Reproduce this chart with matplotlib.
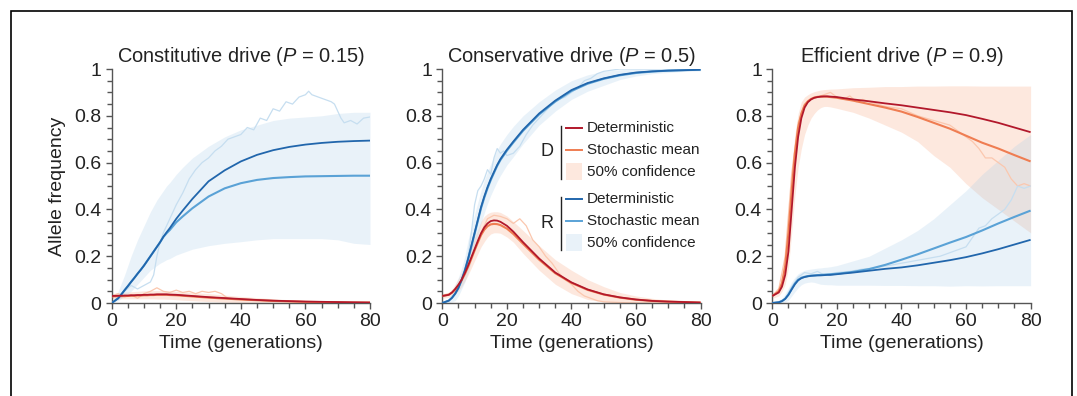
import matplotlib
matplotlib.use("Agg")
import matplotlib.pyplot as plt
from matplotlib.ticker import MultipleLocator, FixedLocator, FuncFormatter
from matplotlib.patches import Rectangle
from matplotlib.lines import Line2D

plt.rcParams['font.family'] = ['Liberation Sans', 'DejaVu Sans']
plt.rcParams['mathtext.fontset'] = 'custom'
plt.rcParams['mathtext.rm'] = 'Liberation Sans'
plt.rcParams['mathtext.it'] = 'Liberation Sans:italic'

# ---------------- data ----------------
titles = [r'Constitutive drive ($P$ = 0.15)', r'Conservative drive ($P$ = 0.5)', r'Efficient drive ($P$ = 0.9)']
ylabel = 'Allele frequency'
xlabel = 'Time (generations)'
xticks = [0, 20, 40, 60, 80]
yticks = [0, 0.2, 0.4, 0.6, 0.8, 1.0]

t = [0, 2, 3, 4, 5, 6, 7, 8, 9, 10, 11, 12, 13, 14, 15, 16, 17, 18, 20, 22, 25, 30, 35, 40, 45, 50, 55, 60, 65, 70, 75, 80]

# Panel 1: constitutive drive
p1_D_det  = [.030, .031, .031, .032, .032, .033, .033, .034, .034, .035, .035, .036, .036, .037, .037, .037, .037, .036, .035, .033, .030, .025, .021, .017, .013, .010, .008, .006, .005, .004, .003, .002]
p1_D_mean = [.028, .029, .029, .030, .030, .031, .031, .032, .032, .033, .033, .034, .034, .035, .035, .035, .035, .034, .033, .031, .028, .023, .019, .015, .012, .009, .007, .005, .004, .003, .002, .002]
p1_D_lo   = [.018, .018, .018, .018, .018, .018, .018, .018, .018, .018, .018, .018, .018, .017, .017, .017, .016, .016, .014, .012, .010, .006, .003, .001, 0, 0, 0, 0, 0, 0, 0, 0]
p1_D_hi   = [.040, .043, .044, .046, .047, .048, .049, .050, .051, .052, .052, .053, .053, .053, .053, .053, .052, .052, .050, .048, .045, .040, .034, .028, .023, .018, .014, .011, .009, .007, .005, .004]
p1_R_det  = [0, .020, .037, .055, .072, .090, .107, .125, .142, .160, .180, .200, .220, .240, .260, .283, .302, .320, .360, .395, .445, .520, .567, .605, .633, .653, .667, .677, .684, .689, .692, .694]
p1_R_mean = [0, .020, .037, .055, .072, .090, .107, .125, .142, .160, .180, .200, .220, .240, .260, .282, .298, .312, .345, .370, .405, .455, .490, .512, .526, .534, .538, .541, .542, .543, .544, .544]
p1_R_lo   = [0, .010, .020, .030, .040, .050, .065, .080, .095, .110, .125, .140, .150, .160, .170, .177, .185, .190, .205, .215, .230, .245, .255, .262, .270, .275, .275, .275, .275, .270, .255, .250]
p1_R_hi   = [0, .050, .085, .120, .160, .200, .235, .270, .300, .330, .360, .390, .415, .440, .460, .480, .500, .515, .550, .580, .620, .670, .710, .740, .760, .780, .790, .795, .800, .810, .815, .815]
p1_D_run_t = [0, 2, 4, 6, 8, 10, 12, 14, 16, 18, 20, 22, 24, 26, 28, 30, 32, 34, 36, 40, 45, 50, 60, 70, 80]
p1_D_run   = [0.030, 0.040, 0.025, 0.035, 0.020, 0.040, 0.050, 0.065, 0.050, 0.045, 0.055, 0.045, 0.050, 0.040, 0.050, 0.045, 0.050, 0.040, 0.020, 0.015, 0.012, 0.008, 0.004, 0.002, 0.001]
p1_R_run_t = [0, 2, 4, 6, 8, 10, 12, 13, 14, 15, 16, 18, 20, 22, 24, 26, 28, 30, 32, 34, 36, 38, 40, 42, 44, 46, 48, 50, 52, 54, 56, 58, 60, 61, 62, 64, 66, 68, 69, 70, 71, 72, 74, 76, 78, 80]
p1_R_run   = [0.000, 0.020, 0.050, 0.075, 0.060, 0.075, 0.090, 0.120, 0.200, 0.260, 0.300, 0.360, 0.420, 0.470, 0.530, 0.570, 0.600, 0.620, 0.650, 0.670, 0.700, 0.710, 0.720, 0.750, 0.740, 0.790, 0.780, 0.830, 0.820, 0.860, 0.850, 0.880, 0.890, 0.905, 0.890, 0.880, 0.870, 0.860, 0.850, 0.820, 0.790, 0.770, 0.780, 0.765, 0.790, 0.795]

# Panel 2: conservative drive
p2_D_det  = [.030, .035, .045, .060, .078, .100, .128, .160, .195, .230, .265, .298, .323, .340, .350, .353, .352, .347, .330, .305, .260, .190, .130, .088, .058, .037, .024, .015, .009, .006, .004, .002]
p2_D_mean = [.030, .035, .044, .058, .076, .097, .124, .155, .190, .225, .258, .290, .313, .328, .336, .338, .337, .333, .318, .295, .253, .185, .127, .086, .056, .036, .023, .014, .009, .006, .004, .002]
p2_D_lo   = [.020, .025, .032, .040, .052, .070, .094, .120, .150, .180, .210, .240, .262, .282, .295, .300, .300, .298, .282, .260, .212, .140, .080, .040, .015, .005, 0, 0, 0, 0, 0, 0]
p2_D_hi   = [.040, .045, .060, .080, .104, .130, .164, .200, .240, .280, .315, .350, .370, .382, .388, .390, .390, .387, .372, .348, .310, .245, .185, .140, .100, .070, .045, .030, .020, .012, .008, .005]
p2_R_det  = [0, .010, .022, .040, .065, .100, .140, .190, .245, .300, .355, .410, .455, .495, .530, .560, .590, .615, .655, .690, .740, .810, .865, .910, .940, .960, .975, .985, .990, .993, .995, .997]
p2_R_mean = [0, .010, .022, .040, .064, .098, .137, .186, .240, .295, .350, .405, .450, .490, .525, .556, .586, .611, .651, .686, .736, .806, .861, .906, .937, .958, .973, .983, .989, .993, .995, .997]
p2_R_lo   = [0, 0, .005, .010, .030, .060, .090, .130, .180, .230, .285, .340, .385, .425, .460, .490, .520, .545, .590, .625, .680, .760, .820, .870, .905, .930, .955, .970, .980, .985, .990, .992]
p2_R_hi   = [0, .020, .045, .080, .110, .150, .200, .270, .325, .380, .430, .480, .525, .560, .595, .625, .655, .680, .720, .755, .800, .860, .910, .950, .975, .990, .997, 1, 1, 1, 1, 1]
p2_D_run_t = [0, 4, 8, 10, 12, 14, 16, 18, 20, 22, 24, 26, 28, 30, 32, 34, 36, 38, 40, 42, 44, 46, 48, 50, 55, 60, 80]
p2_D_run   = [0.030, 0.050, 0.150, 0.220, 0.300, 0.360, 0.375, 0.370, 0.360, 0.340, 0.360, 0.330, 0.270, 0.240, 0.200, 0.170, 0.130, 0.100, 0.080, 0.050, 0.030, 0.020, 0.010, 0.005, 0.002, 0.000, 0.000]
p2_R_run_t = [0, 2, 4, 6, 8, 9, 10, 11, 12, 13, 14, 15, 16, 17, 18, 19, 20, 22, 24, 26, 28, 30, 32, 34, 36, 38, 40, 42, 44, 46, 48, 50, 55, 60, 65, 70, 75, 80]
p2_R_run   = [0.000, 0.010, 0.040, 0.100, 0.200, 0.300, 0.420, 0.480, 0.500, 0.530, 0.570, 0.550, 0.620, 0.660, 0.640, 0.650, 0.630, 0.640, 0.670, 0.720, 0.760, 0.790, 0.820, 0.850, 0.870, 0.880, 0.900, 0.920, 0.950, 0.960, 0.980, 0.990, 1.000, 1.000, 1.000, 1.000, 1.000, 1.000]

# Panel 3: efficient drive
p3_D_det  = [.030, .045, .070, .120, .220, .400, .580, .710, .790, .835, .858, .870, .877, .880, .882, .883, .883, .882, .880, .876, .870, .862, .853, .845, .835, .825, .815, .803, .787, .770, .750, .730]
p3_D_mean = [.030, .050, .085, .160, .300, .480, .640, .750, .810, .845, .862, .872, .878, .881, .882, .882, .882, .880, .877, .872, .865, .850, .835, .818, .795, .770, .745, .715, .685, .660, .632, .605]
p3_D_lo   = [.020, .030, .050, .080, .150, .300, .460, .580, .660, .720, .760, .790, .810, .825, .835, .840, .840, .838, .832, .825, .815, .790, .760, .730, .690, .630, .580, .510, .450, .400, .350, .300]
p3_D_hi   = [.040, .070, .120, .230, .400, .580, .720, .810, .860, .880, .890, .898, .903, .907, .910, .912, .913, .914, .915, .917, .920, .922, .925, .925, .927, .927, .928, .928, .927, .927, .927, .927]
p3_R_det  = [0, .003, .008, .018, .035, .058, .080, .097, .106, .111, .114, .116, .117, .118, .118, .119, .120, .120, .123, .126, .130, .138, .146, .152, .161, .172, .183, .196, .212, .230, .250, .270]
p3_R_mean = [0, .003, .008, .018, .036, .060, .083, .099, .108, .112, .115, .117, .118, .119, .120, .121, .122, .123, .125, .128, .133, .145, .163, .185, .208, .233, .258, .282, .310, .340, .368, .395]
p3_R_lo   = [0, 0, .002, .005, .012, .030, .048, .065, .078, .085, .088, .090, .088, .084, .080, .079, .078, .078, .076, .076, .076, .076, .075, .075, .074, .074, .072, .074, .073, .074, .074, .074]
p3_R_hi   = [0, .008, .018, .040, .065, .090, .110, .125, .133, .140, .143, .145, .147, .149, .150, .152, .153, .155, .160, .168, .180, .200, .235, .270, .310, .360, .420, .480, .550, .610, .670, .720]
p3_D_run_t = [0, 2, 4, 6, 8, 10, 12, 14, 16, 18, 20, 22, 24, 26, 28, 30, 35, 40, 45, 50, 55, 60, 62, 64, 66, 68, 70, 72, 74, 76, 78, 80]
p3_D_run   = [0.030, 0.060, 0.200, 0.550, 0.770, 0.850, 0.870, 0.880, 0.890, 0.900, 0.880, 0.870, 0.885, 0.860, 0.870, 0.860, 0.840, 0.830, 0.800, 0.780, 0.760, 0.710, 0.690, 0.660, 0.620, 0.620, 0.600, 0.580, 0.530, 0.500, 0.510, 0.500]
p3_R_run_t = [0, 2, 4, 6, 8, 10, 12, 14, 16, 18, 20, 24, 28, 32, 36, 40, 44, 48, 52, 56, 60, 62, 64, 66, 68, 70, 72, 74, 76, 78, 80]
p3_R_run   = [0.000, 0.005, 0.020, 0.070, 0.110, 0.130, 0.125, 0.135, 0.120, 0.125, 0.130, 0.135, 0.145, 0.150, 0.160, 0.170, 0.180, 0.190, 0.200, 0.220, 0.240, 0.280, 0.320, 0.330, 0.360, 0.380, 0.400, 0.440, 0.500, 0.490, 0.500]

panels = [
    dict(D=(p1_D_det, p1_D_mean, p1_D_lo, p1_D_hi, p1_D_run_t, p1_D_run),
         R=(p1_R_det, p1_R_mean, p1_R_lo, p1_R_hi, p1_R_run_t, p1_R_run)),
    dict(D=(p2_D_det, p2_D_mean, p2_D_lo, p2_D_hi, p2_D_run_t, p2_D_run),
         R=(p2_R_det, p2_R_mean, p2_R_lo, p2_R_hi, p2_R_run_t, p2_R_run)),
    dict(D=(p3_D_det, p3_D_mean, p3_D_lo, p3_D_hi, p3_D_run_t, p3_D_run),
         R=(p3_R_det, p3_R_mean, p3_R_lo, p3_R_hi, p3_R_run_t, p3_R_run)),
]

# ---------------- styles ----------------
colors = {
    'D': dict(det='#b2182b', mean='#ef7d52', band='#f9a47e', run='#fbc7ae'),
    'R': dict(det='#2166ac', mean='#5aa2d6', band='#a9cde9', run='#c6def0'),
}
band_alpha = {'D': 0.25, 'R': 0.25}
axis_col = '#555555'
text_col = '#222222'
fs = 14

W, H = 1077, 396
fig = plt.figure(figsize=(W / 100, H / 100), dpi=100)

# outer frame
fig.patches.append(Rectangle((11 / W, -0.1), (1072 - 11) / W, 1.1 - 11 / H,
                             transform=fig.transFigure, fill=False,
                             edgecolor='black', linewidth=1.2))

lefts = [111.7, 442.3, 772.3]
width_px = 258.3
top_px, bot_px = 69, 303

axes = []
for i, (lx, pdata) in enumerate(zip(lefts, panels)):
    ax = fig.add_axes([lx / W, (H - bot_px) / H, width_px / W, (bot_px - top_px) / H])
    axes.append(ax)
    for key in ['D', 'R']:
        det, mean, lo, hi, rt, run = pdata[key]
        c = colors[key]
        ax.fill_between(t, lo, hi, color=c['band'], alpha=band_alpha[key], linewidth=0, zorder=1)
    for key in ['D', 'R']:
        det, mean, lo, hi, rt, run = pdata[key]
        c = colors[key]
        ax.plot(rt, run, color=c['run'], lw=0.9, zorder=2)
    for key in ['R', 'D']:
        det, mean, lo, hi, rt, run = pdata[key]
        c = colors[key]
        ax.plot(t, mean, color=c['mean'], lw=1.5, zorder=3, solid_capstyle='butt')
        ax.plot(t, det, color=c['det'], lw=1.3, zorder=4, solid_capstyle='butt')

    ax.set_xlim(0, 80)
    ax.set_ylim(0, 1)
    ax.spines['top'].set_visible(False)
    ax.spines['right'].set_visible(False)
    for s in ['left', 'bottom']:
        ax.spines[s].set_color(axis_col)
        ax.spines[s].set_linewidth(1.0)
    ax.xaxis.set_major_locator(FixedLocator(xticks))
    ax.yaxis.set_major_locator(FixedLocator(yticks))
    ax.xaxis.set_minor_locator(MultipleLocator(5))
    ax.yaxis.set_minor_locator(MultipleLocator(0.05))
    ax.yaxis.set_major_formatter(FuncFormatter(lambda v, p: '%g' % v))
    ax.tick_params(which='major', direction='out', length=4.5, width=1.0, color=axis_col,
                   labelsize=fs, labelcolor=text_col, pad=3)
    ax.tick_params(which='minor', direction='out', length=3.5, width=1.0, color=axis_col)
    ax.set_title(titles[i], fontsize=14.4, color=text_col, pad=5)
    ax.set_xlabel(xlabel, fontsize=fs, color=text_col, labelpad=3)
    if i == 0:
        ax.set_ylabel(ylabel, fontsize=fs, color=text_col, labelpad=6)

# ---------------- legend (panel 2) ----------------
ax = axes[1]
lx0 = lefts[1]


def fx(px):
    return (px - lx0) / width_px


def fy(py):
    return (bot_px - py) / (bot_px - top_px)


legend_rows = {
    'D': [128, 150, 172],
    'R': [199, 221, 243],
}
labels = ['Deterministic', 'Stochastic mean', '50% confidence']
for key in ['D', 'R']:
    rows = legend_rows[key]
    c = colors[key]
    ax.add_line(Line2D([fx(566), fx(582)], [fy(rows[0])] * 2, transform=ax.transAxes, color=c['det'], lw=1.4))
    ax.add_line(Line2D([fx(566), fx(582)], [fy(rows[1])] * 2, transform=ax.transAxes, color=c['mean'], lw=1.4))
    ax.add_patch(Rectangle((fx(566), fy(rows[2] + 8)), fx(582) - fx(566), fy(rows[2] - 9) - fy(rows[2] + 8),
                           transform=ax.transAxes, facecolor=c['band'], alpha=band_alpha[key], linewidth=0))
    for r, lab in zip(rows, labels):
        ax.text(fx(587), fy(r), lab, transform=ax.transAxes, fontsize=11, color=text_col,
                va='center', ha='left')
    ax.add_line(Line2D([fx(561), fx(561)], [fy(rows[0] - 2), fy(rows[2] + 7)], transform=ax.transAxes,
                       color='#222222', lw=1.0))
    ax.text(fx(553), fy(rows[1] + 2), key, transform=ax.transAxes, fontsize=13, color=text_col,
            va='center', ha='right')

fig.savefig('out.png', dpi=100)
